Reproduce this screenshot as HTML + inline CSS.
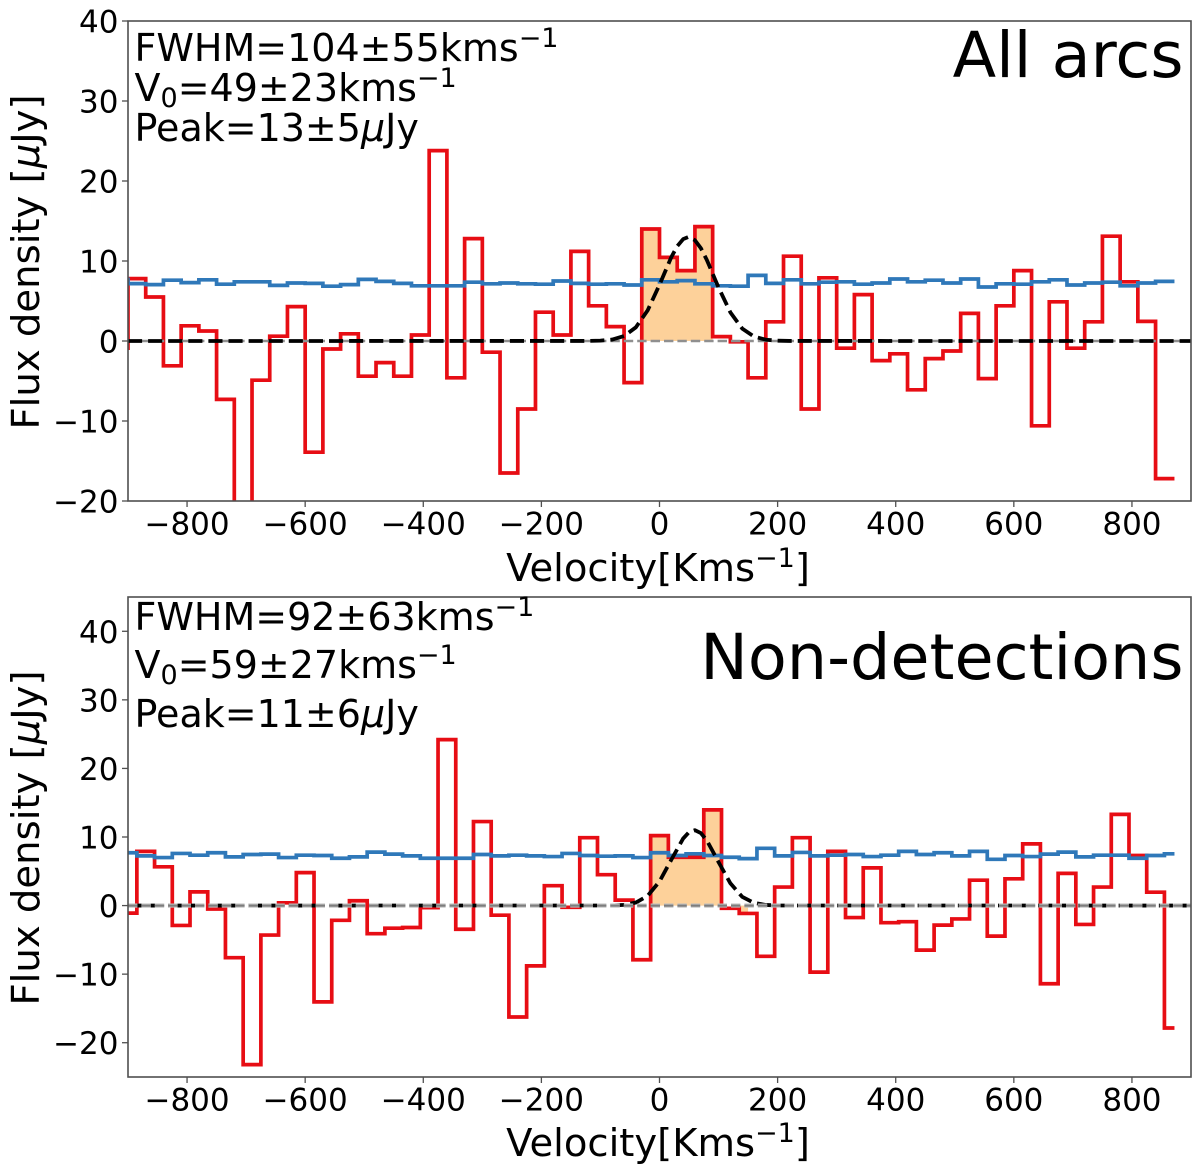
<!DOCTYPE html>
<html lang="en">
<head>
<meta charset="utf-8">
<title>Stacked spectra: All arcs and Non-detections</title>
<style>
html,body{margin:0;padding:0;background:#fff;width:1200px;height:1174px;overflow:hidden}
svg{display:block}
text{font-family:"DejaVu Sans","Liberation Sans",sans-serif;fill:#000}
</style>
</head>
<body>
<svg id="figure" xmlns="http://www.w3.org/2000/svg" width="1200" height="1174" viewBox="0 0 1200 1174">
  <defs>
    <clipPath id="clip-top"><rect x="128" y="21" width="1063" height="480"/></clipPath>
    <clipPath id="clip-bottom"><rect x="128" y="597" width="1063" height="480"/></clipPath>
  </defs>
  <g id="panel-top"></g>
  <g id="panel-bottom"></g>

  <text x="134.5" y="61" font-size="38">FWHM=104±55kms<tspan dy="-14" font-size="27">−1</tspan></text>
  <text x="134.5" y="101" font-size="38">V<tspan dy="6" font-size="27">0</tspan><tspan dy="-6">=49±23kms</tspan><tspan dy="-14" font-size="27">−1</tspan></text>
  <text x="134.5" y="141" font-size="38">Peak=13±5<tspan font-style="italic">μ</tspan>Jy</text>
  <text x="1183.5" y="77" font-size="63.6" text-anchor="end">All arcs</text>
  <text x="658" y="581" font-size="38.5" text-anchor="middle">Velocity[Kms<tspan dy="-14" font-size="27">−1</tspan><tspan dy="14">]</tspan></text>
  <text transform="translate(39,262) rotate(-90)" font-size="38.6" text-anchor="middle">Flux density [<tspan font-style="italic">μ</tspan>Jy]</text>

  <text x="134.5" y="630" font-size="38">FWHM=92±63kms<tspan dy="-14" font-size="27">−1</tspan></text>
  <text x="134.5" y="678" font-size="38">V<tspan dy="6" font-size="27">0</tspan><tspan dy="-6">=59±27kms</tspan><tspan dy="-14" font-size="27">−1</tspan></text>
  <text x="134.5" y="727" font-size="38">Peak=11±6<tspan font-style="italic">μ</tspan>Jy</text>
  <text x="1183.5" y="679" font-size="63.6" text-anchor="end">Non-detections</text>
  <text x="658" y="1156" font-size="38.5" text-anchor="middle">Velocity[Kms<tspan dy="-14" font-size="27">−1</tspan><tspan dy="14">]</tspan></text>
  <text transform="translate(39,838) rotate(-90)" font-size="38.6" text-anchor="middle">Flux density [<tspan font-style="italic">μ</tspan>Jy]</text>
</svg>
<script>
const xTickValues = [-800,-600,-400,-200,0,200,400,600,800];
const yTickValues = [-20,-10,0,10,20,30,40];

const topEdges = [-930,-900,-870,-840,-810,-780,-750,-720,-690,-660,-630,-600,-570,-540,-510,-480,-450,-420,-390,-360,-330,-300,-270,-240,-210,-180,-150,-120,-90,-60,-30,0,30,60,90,120,150,180,210,240,270,300,330,360,390,420,450,480,510,540,570,600,630,660,690,720,750,780,810,840,872];
const topFlux = [-0.9,7.8,5.5,-3.1,1.9,1.25,-7.3,-25,-4.9,0.6,4.3,-13.9,-1.0,0.9,-4.4,-2.7,-4.4,0.75,23.8,-4.6,12.8,-1.4,-16.5,-8.5,3.6,0.75,11.2,4.4,1.8,-5.2,14.0,10.45,8.8,14.3,0.55,-0.1,-4.6,2.4,10.6,-8.5,7.9,-0.9,5.8,-2.45,-1.6,-6.1,-2.2,-1.25,3.45,-4.7,4.4,8.8,-10.6,4.9,-0.9,2.4,13.1,7.4,2.45,-17.2];
const topNoise = [7.7,7.17,7.05,7.6,7.3,7.65,7.1,7.4,7.4,6.95,7.25,7.2,6.85,7.05,7.7,7.45,7.2,6.9,6.9,6.9,7.35,7.15,7.25,7.15,7.1,7.5,7.2,7.1,7.15,7.0,7.65,7.4,7.55,7.15,6.9,6.85,8.2,7.2,7.65,7.15,7.35,7.4,7.1,7.25,7.75,7.4,7.6,7.25,7.75,6.75,7.15,7.1,7.4,7.65,7.0,7.25,7.35,6.9,7.25,7.45];
const topFitVelocity = [-900,-120,-100,-80,-60,-40,-20,0,20,30,40,49,60,70,80,100,120,140,160,180,200,220,900];
const topFitFlux = [0,0.01,0.044,0.18,0.62,1.71,3.84,7.03,10.48,11.85,12.73,13,12.6,11.61,10.16,6.68,3.58,1.56,0.555,0.16,0.04,0.006,0];
const topFillStart = [-30];
const topFillEnd = [90];

const bottomEdges = [-915,-885,-855,-825,-795,-765,-735,-705,-675,-645,-615,-585,-555,-525,-495,-465,-435,-405,-375,-345,-315,-285,-255,-225,-195,-165,-135,-105,-75,-45,-15,15,45,75,105,135,165,195,225,255,285,315,345,375,405,435,465,495,525,555,585,615,645,675,705,735,765,795,825,855,872];
const bottomFlux = [-1.1,7.9,5.65,-2.9,2.0,-0.5,-7.6,-23.2,-4.3,0.4,4.8,-14.05,-2.15,0.7,-4.1,-3.3,-3.2,-0.3,24.2,-3.45,12.25,-1.4,-16.25,-8.8,2.9,-0.25,9.9,4.5,0.8,-7.9,10.2,7.05,7.05,13.95,-0.4,-1.15,-7.4,2.7,9.9,-9.7,7.9,-1.75,5.5,-2.5,-2.35,-6.5,-2.85,-1.95,3.7,-4.45,3.9,9.0,-11.4,4.7,-2.75,2.7,13.3,7.3,1.95,-17.85];
const bottomNoise = [7.7,7.25,7.0,7.6,7.35,7.7,7.1,7.45,7.5,7.0,7.35,7.3,6.9,7.1,7.8,7.5,7.25,6.9,6.9,6.9,7.45,7.25,7.35,7.25,7.15,7.6,7.3,7.2,7.25,7.0,7.7,7.3,7.55,7.3,7.05,6.85,8.35,7.25,7.75,7.25,7.35,7.45,7.15,7.35,7.9,7.45,7.7,7.25,7.9,6.75,7.3,7.15,7.5,7.8,7.1,7.35,7.35,6.9,7.3,7.55];
const bottomFitVelocity = [-900,-80,-60,-40,-20,0,20,40,50,60,70,80,100,120,140,160,180,200,900];
const bottomFitFlux = [0,0.01,0.106,0.44,1.42,3.52,6.68,9.77,10.71,11,10.57,9.52,6.34,3.25,1.28,0.39,0.09,0.016,0];
const bottomFillStart = [-15,135];
const bottomFillEnd = [105,150];

const NS = 'http://www.w3.org/2000/svg';
const X_LEFT = 128, X_RIGHT = 1191;
function xScale(v){ return X_LEFT + (v + 900) * (X_RIGHT - X_LEFT) / 1800; }
function yScaleTop(f){ return 21 + (40 - f) * 8; }
function yScaleBottom(f){ return 597 + (45 - f) * 480 / 70; }
function fmt(n){ return String(n).replace('-', '\u2212'); }
function make(parent, tag, attrs){
  const el = document.createElementNS(NS, tag);
  for (const k in attrs) el.setAttribute(k, attrs[k]);
  parent.appendChild(el);
  return el;
}
function stepPath(edges, values, y){
  let d = 'M' + xScale(edges[0]).toFixed(2) + ' ' + y(values[0]).toFixed(2);
  for (let i = 0; i < values.length; i++){
    d += 'L' + xScale(edges[i]).toFixed(2) + ' ' + y(values[i]).toFixed(2);
    d += 'L' + xScale(edges[i+1]).toFixed(2) + ' ' + y(values[i]).toFixed(2);
  }
  return d;
}
function linePath(xs, ys, y){
  return xs.map(function(v, i){
    return (i ? 'L' : 'M') + xScale(v).toFixed(2) + ' ' + y(ys[i]).toFixed(2);
  }).join('');
}
function fillPath(edges, values, start, end, y){
  let d = 'M' + xScale(start).toFixed(2) + ' ' + y(0).toFixed(2);
  for (let i = 0; i < values.length; i++){
    const a = Math.max(edges[i], start), b = Math.min(edges[i+1], end);
    if (b <= a) continue;
    d += 'L' + xScale(a).toFixed(2) + ' ' + y(values[i]).toFixed(2);
    d += 'L' + xScale(b).toFixed(2) + ' ' + y(values[i]).toFixed(2);
  }
  return d + 'L' + xScale(end).toFixed(2) + ' ' + y(0).toFixed(2) + 'Z';
}
function drawPanel(prefix, group, clipId, top, bottom, y, edges, flux, noise, fitV, fitF, fillS, fillE, grayOnTop){
  const plot = make(group, 'g', {'clip-path': 'url(#' + clipId + ')'});
  
  

  fillS.forEach(function(s, i){
    const fill = make(plot, 'path', {d: fillPath(edges, flux, s, fillE[i], y), fill: '#fdd19a', stroke: 'none'});
    
    
  });

  const red = make(plot, 'path', {d: stepPath(edges, flux, y), fill: 'none', stroke: '#e70d14', 'stroke-width': 3.7, 'stroke-linejoin': 'miter'});
  
  

  const blue = make(plot, 'path', {d: stepPath(edges, noise, y), fill: 'none', stroke: '#2f78b9', 'stroke-width': 3.7, 'stroke-linejoin': 'miter'});
  
  

  function drawGray(width, color, name){
    const gray = make(plot, 'line', {x1: X_LEFT, x2: X_RIGHT, y1: y(0), y2: y(0), stroke: color, 'stroke-width': width, 'stroke-dasharray': '9.4 4'});
    
    
  }
  if (!grayOnTop) drawGray(2.4, '#8f8f8f', prefix + '-zero-line');
  const fit = make(plot, 'path', {d: linePath(fitV, fitF, y), fill: 'none', stroke: '#000', 'stroke-width': 3.8, 'stroke-dasharray': '14.1 6', 'stroke-linejoin': 'round'});
  
  
  if (grayOnTop){
    drawGray(4.2, '#bdbdbd', prefix + '-zero-line-halo');
    drawGray(2, '#7d7d7d', prefix + '-zero-line');
  }

  const frame = make(group, 'rect', {x: X_LEFT, y: top, width: X_RIGHT - X_LEFT, height: bottom - top, fill: 'none', stroke: '#4f4f4f', 'stroke-width': 1.6});
  
  

  xTickValues.forEach(function(v){
    const tick = make(group, 'line', {x1: xScale(v), x2: xScale(v), y1: bottom, y2: bottom + 6, stroke: '#4f4f4f', 'stroke-width': 1.3});
    
    
    const label = make(group, 'text', {x: xScale(v), y: bottom + 33.5, 'font-size': 31, 'text-anchor': 'middle'});
    label.textContent = fmt(v);
    
    
  });
  yTickValues.forEach(function(v){
    const tick = make(group, 'line', {x1: X_LEFT - 6, x2: X_LEFT, y1: y(v), y2: y(v), stroke: '#4f4f4f', 'stroke-width': 1.3});
    
    
    const label = make(group, 'text', {x: 118.5, y: y(v) + 11.5, 'font-size': 31, 'text-anchor': 'end'});
    label.textContent = fmt(v);
    
    
  });
}
drawPanel('all-arcs', document.getElementById('panel-top'), 'clip-top', 21, 501, yScaleTop, topEdges, topFlux, topNoise, topFitVelocity, topFitFlux, topFillStart, topFillEnd, false);
drawPanel('non-detections', document.getElementById('panel-bottom'), 'clip-bottom', 597, 1077, yScaleBottom, bottomEdges, bottomFlux, bottomNoise, bottomFitVelocity, bottomFitFlux, bottomFillStart, bottomFillEnd, true);
</script>
</body>
</html>
